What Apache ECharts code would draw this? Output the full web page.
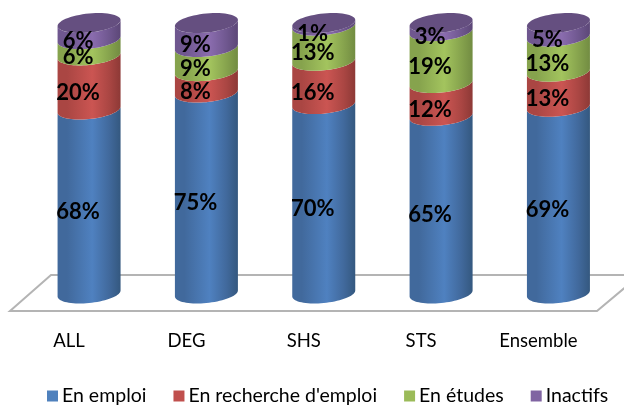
<!DOCTYPE html>
<html><head><meta charset="utf-8">
<style>html,body{margin:0;padding:0;background:#fff}#c{width:624px;height:407px}</style>
<script src="https://cdn.jsdelivr.net/npm/echarts@6/dist/echarts.min.js"></script>
</head><body><div id="c"></div>
<script>
const categories = ['ALL','DEG','SHS','STS','Ensemble'];
const enEmploi = [68,75,70,65,69];
const enRecherche = [20,8,16,12,13];
const enEtudes = [6,9,13,19,13];
const inactifs = [6,9,1,3,5];
const seriesNames = ['En emploi',"En recherche d'emploi",'En études','Inactifs'];
const seriesValues = [enEmploi,enRecherche,enEtudes,inactifs];
const baseColors = ['#4f81bd','#c0504d','#9bbb59','#8064a2'];
const midColors = ['#4f81c0','#cb5552','#a3c45e','#8a6cae'];
const edgeL = ['#41699c','#aa4643','#86a34d','#6f578f'];
const edgeR = ['#34587f','#8d3936','#728c42','#5c4777'];
const FONT = 'Lato, "Open Sans", sans-serif';

const totals = categories.map((_, i) => seriesValues.reduce((s, a) => s + a[i], 0));
const HALF = 31.5, B = 9.5, TILT = 3;

function curve(cx, y, from, to, n) {
  const pts = [];
  for (let i = 0; i <= n; i++) {
    const t = from + (to - from) * i / n;
    pts.push([cx + HALF * Math.cos(t), y + B * Math.sin(t) - TILT * Math.cos(t)]);
  }
  return pts;
}
function grad(s) {
  return new echarts.graphic.LinearGradient(0, 0, 1, 0, [
    {offset: 0, color: edgeL[s]}, {offset: 0.15, color: edgeL[s]},
    {offset: 0.55, color: midColors[s]},
    {offset: 0.82, color: edgeL[s]}, {offset: 1, color: edgeR[s]}
  ]);
}
function makeSeries(s) {
  return {
    name: seriesNames[s], type: 'custom', coordinateSystem: 'cartesian2d',
    itemStyle: {color: baseColors[s]},
    encode: {x: 0, y: [1, 2]},
    data: categories.map((c, i) => {
      let low = 0;
      for (let k = 0; k < s; k++) low += seriesValues[k][i];
      return [i, low / totals[i] * 100, (low + seriesValues[s][i]) / totals[i] * 100, seriesValues[s][i]];
    }),
    renderItem(params, api) {
      const i = api.value(0);
      const p0 = api.coord([i, api.value(1)]);
      const p1 = api.coord([i, api.value(2)]);
      const cx = p0[0];
      const lower = curve(cx, p0[1], 0, Math.PI, 36);
      const upper = curve(cx, p1[1], Math.PI, 0, 36);
      const children = [{
        type: 'polygon', z2: 1, shape: {points: lower.concat(upper)},
        style: {fill: grad(s)}
      }];
      if (s === seriesValues.length - 1) {
        children.push({
          type: 'polygon', z2: 2, shape: {points: curve(cx, p1[1], 0, 2 * Math.PI, 60)},
          style: {fill: '#654f80'}
        });
      }
      children.push({
        type: 'text', z2: 100,
        style: {
          x: cx - 11, y: (p0[1] + p1[1]) / 2 + 10, text: api.value(3) + '%',
          fill: '#000', font: 'bold 22px ' + FONT, textAlign: 'center', textVerticalAlign: 'middle'
        }
      });
      return {type: 'group', children};
    }
  };
}
const chart = echarts.init(document.getElementById('c'), null, {renderer: 'canvas'});
chart.setOption({
  animation: false,
  backgroundColor: '#fff',
  grid: {left: 30.4, right: 6.9, top: 23, bottom: 113.5, containLabel: false},
  xAxis: {
    type: 'category', data: categories,
    axisLine: {show: false}, axisTick: {show: false}, splitLine: {show: false},
    axisLabel: {color: '#000', fontFamily: FONT, fontSize: 18.5, margin: 38, padding: [0, 40, 0, 0], interval: 0}
  },
  yAxis: {type: 'value', min: 0, max: 100, show: false, splitLine: {show: false}},
  legend: {
    data: seriesNames, top: 386, left: 47, padding: 0, icon: 'rect', itemWidth: 11, itemHeight: 11,
    itemGap: 27, textStyle: {color: '#000', fontFamily: FONT, fontSize: 19.5, padding: [0, 0, 0, -1]}
  },
  graphic: [{
    type: 'polygon', z: -1, silent: true,
    shape: {points: [[51, 275], [640, 275], [597, 311], [10, 311]]},
    style: {fill: '#fff', stroke: '#b4b4b4', lineWidth: 2}
  }],
  series: seriesValues.map((_, s) => makeSeries(s))
});
</script></body></html>
